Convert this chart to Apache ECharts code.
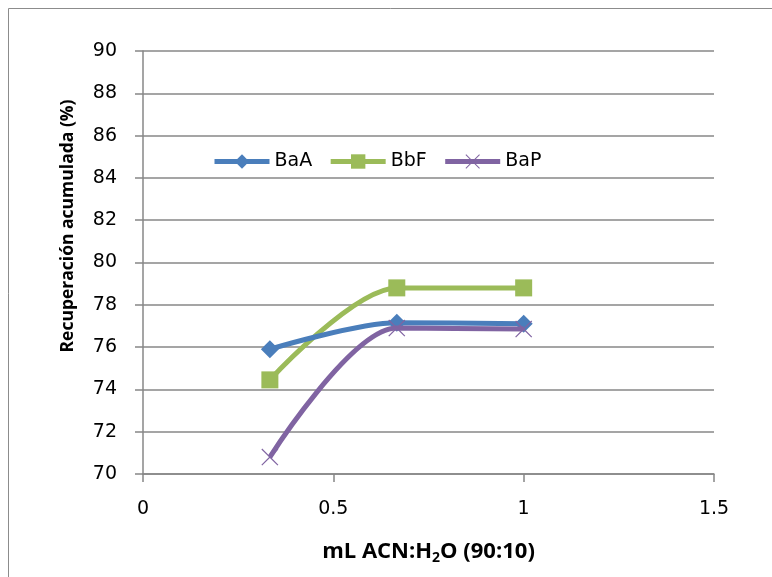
<!DOCTYPE html>
<html>
<head>
<meta charset="utf-8">
<script src="https://cdn.jsdelivr.net/npm/echarts@6/dist/echarts.min.js"></script>
<style>
html,body{margin:0;padding:0;background:#fff;}
#chart{width:772px;height:577px;}
</style>
</head>
<body>
<div id="chart"></div>
<script>
var xValues = [0.3333, 0.6667, 1.0];
var seriesNames = ['BaA', 'BbF', 'BaP'];
var baA = [75.9, 77.15, 77.1];
var bbF = [74.45, 78.8, 78.8];
var baP = [70.8, 76.9, 76.85];
var yTicks = [70, 72, 74, 76, 78, 80, 82, 84, 86, 88, 90];
var xTicks = [0, 0.5, 1, 1.5];

function pairs(vals){ return xValues.map(function(x,i){ return [x, vals[i]]; }); }

var FONT = 'DejaVu Sans';
var crossPath = 'path://M0,1 L1,0 L10,9 L19,0 L20,1 L11,10 L20,19 L19,20 L10,11 L1,20 L0,19 L9,10 Z';

var chart = echarts.init(document.getElementById('chart'));
chart.setOption({
  animation: false,
  backgroundColor: '#ffffff',
  graphic: [
    {type:'rect', shape:{x:8.5, y:8.5, width:800, height:600}, style:{fill:'none', stroke:'#8c8c8c', lineWidth:1}, z:-1},
    {type:'text', rotation: Math.PI/2, x:68, y:226,
     style:{text:'Recuperación acumulada (%)', font:'bold 17.5px "Open Sans"', fill:'#000', textAlign:'center', textVerticalAlign:'middle'}}
  ],
  legend: {
    left: 207, top: 147,
    itemWidth: 55, itemHeight: 18, itemGap: 16,
    lineStyle: {width: 5},
    textStyle: {fontFamily: FONT, fontSize: 19, color: '#000'},
    data: seriesNames
  },
  grid: {left: 143, top: 51, right: 58, bottom: 103, containLabel: false},
  xAxis: {
    type: 'value', min: 0, max: 1.5, interval: 0.5,
    axisLine: {show: true, onZero:false, lineStyle: {color: '#878787', width: 1.5}},
    axisTick: {show: true, length: 8, lineStyle: {color: '#878787', width: 1.5}},
    axisLabel: {fontFamily: FONT, fontSize: 19, color: '#000', margin: 26, formatter: function(v){ return String(v); }},
    splitLine: {show: false},
    name: '{b|mL ACN:H}{s|2}{b|O (90:10)}',
    nameLocation: 'middle', nameGap: 65,
    nameTextStyle: {rich: {
      b: {fontFamily: 'Open Sans', fontWeight: 'bold', fontSize: 22, color: '#000'},
      s: {fontFamily: 'Open Sans', fontWeight: 'bold', fontSize: 14, color: '#000', verticalAlign: 'bottom', padding: [12,0,0,0]}
    }}
  },
  yAxis: {
    type: 'value', min: 70, max: 90, interval: 2,
    axisLine: {show: true, lineStyle: {color: '#878787', width: 1.5}},
    axisTick: {show: true, length: 8, lineStyle: {color: '#878787', width: 1.5}},
    axisLabel: {fontFamily: FONT, fontSize: 19, color: '#000', margin: 26},
    splitLine: {show: true, lineStyle: {color: '#878787', width: 1.5}}
  },
  series: [
    {name: 'BaA', type: 'line', smooth: 0.3, data: pairs(baA),
     symbol: 'diamond', symbolSize: 18, lineStyle: {color: '#4a7ebb', width: 5},
     itemStyle: {color: '#4a7ebb'}, z: 3},
    {name: 'BbF', type: 'line', smooth: 0.3, data: pairs(bbF),
     symbol: 'rect', symbolSize: 17, lineStyle: {color: '#9bbb59', width: 5},
     itemStyle: {color: '#9bbb59'}, z: 2},
    {name: 'BaP', type: 'line', smooth: 0.3, data: pairs(baP),
     symbol: crossPath, symbolSize: 17, lineStyle: {color: '#8064a2', width: 5},
     itemStyle: {color: '#8064a2'}, z: 4}
  ]
});
</script>
</body>
</html>
